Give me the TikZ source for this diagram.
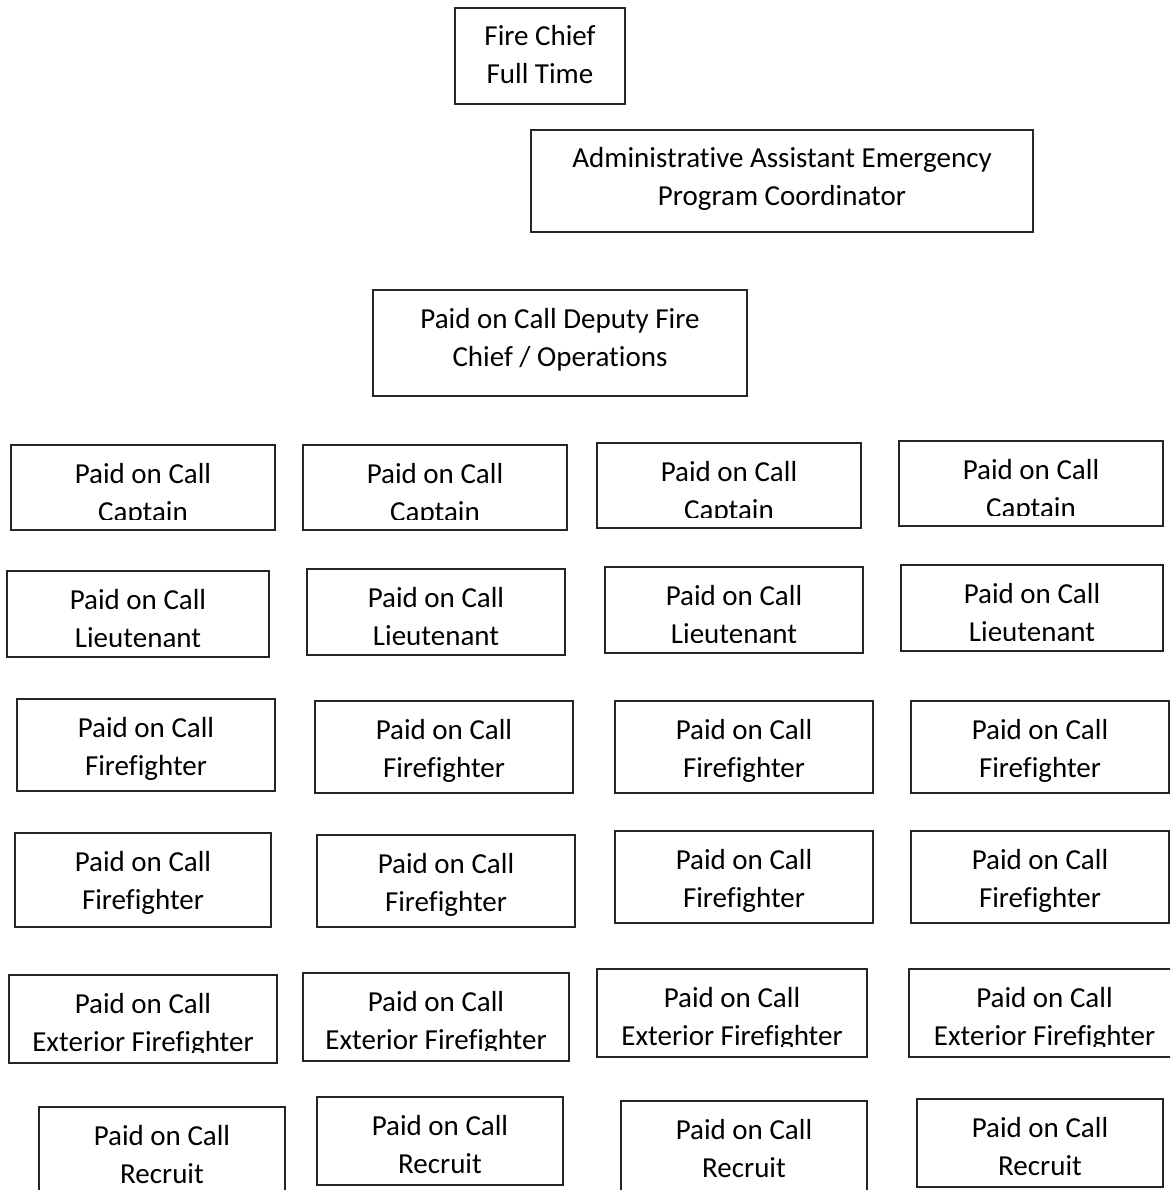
\documentclass[tikz,border=0pt]{standalone}
\usepackage{fontspec}
\setmainfont{Carlito}[Ligatures={NoCommon,NoContextual,NoRare}]
\newcommand{\obox}[7]{%
  \node[orgbox, minimum width={(#4)-(#2)}, minimum height={(#5)-(#3)}] (#1) at ({(#2+#4)/2},{(#3+#5)/2}) {};
  \begin{scope}
    \clip (#2,#3) rectangle (#4,#5-11);
    \node[orgtext] (#1-a) at ({(#2+#4)/2},#3+38) {#6};
    \node[orgtext] (#1-b) at ({(#2+#4)/2},#3+76) {#7};
  \end{scope}}
\begin{document}
\begin{tikzpicture}[x={(1pt,0pt)}, y={(0pt,-1pt)},
  orgbox/.style={draw=black!85, line width=1.3pt, inner sep=0pt, outer sep=0pt, rectangle},
  orgtext/.style={anchor=base, inner sep=0pt, outer sep=0pt, font=\fontsize{29}{35}\selectfont, text=black}]
\useasboundingbox (0,0) rectangle (1170,1190);
\clip (0,0) rectangle (1170,1190);
\fill[white] (0,0) rectangle (1170,1190);
% top
\obox{chief}{455}{8}{625}{104}{Fire Chief}{Full Time}
\obox{admin}{531}{130}{1033}{232}{Administrative Assistant Emergency}{Program Coordinator}
\obox{deputy}{373}{290}{747}{396}{Paid on Call Deputy Fire}{Chief / Operations}
% captains
\obox{cap1}{11}{445}{275}{530}{Paid on Call}{Captain}
\obox{cap2}{303}{445}{567}{530}{Paid on Call}{Captain}
\obox{cap3}{597}{443}{861}{528}{Paid on Call}{Captain}
\obox{cap4}{899}{441}{1163}{526}{Paid on Call}{Captain}
% lieutenants
\obox{lt1}{7}{571}{269}{657}{Paid on Call}{Lieutenant}
\obox{lt2}{307}{569}{565}{655}{Paid on Call}{Lieutenant}
\obox{lt3}{605}{567}{863}{653}{Paid on Call}{Lieutenant}
\obox{lt4}{901}{565}{1163}{651}{Paid on Call}{Lieutenant}
% firefighters 1
\obox{ffa1}{17}{699}{275}{791}{Paid on Call}{Firefighter}
\obox{ffa2}{315}{701}{573}{793}{Paid on Call}{Firefighter}
\obox{ffa3}{615}{701}{873}{793}{Paid on Call}{Firefighter}
\obox{ffa4}{911}{701}{1169}{793}{Paid on Call}{Firefighter}
% firefighters 2
\obox{ffb1}{15}{833}{271}{927}{Paid on Call}{Firefighter}
\obox{ffb2}{317}{835}{575}{927}{Paid on Call}{Firefighter}
\obox{ffb3}{615}{831}{873}{923}{Paid on Call}{Firefighter}
\obox{ffb4}{911}{831}{1169}{923}{Paid on Call}{Firefighter}
% exterior
\obox{ext1}{9}{975}{277}{1063}{Paid on Call}{Exterior Firefighter}
\obox{ext2}{303}{973}{569}{1061}{Paid on Call}{Exterior Firefighter}
\obox{ext3}{597}{969}{867}{1057}{Paid on Call}{Exterior Firefighter}
\obox{ext4}{909}{969}{1180}{1057}{Paid on Call}{Exterior Firefighter}
% recruits
\obox{rec1}{39}{1107}{285}{1200}{Paid on Call}{Recruit}
\obox{rec2}{317}{1097}{563}{1185}{Paid on Call}{Recruit}
\obox{rec3}{621}{1101}{867}{1200}{Paid on Call}{Recruit}
\obox{rec4}{917}{1099}{1163}{1187}{Paid on Call}{Recruit}
\end{tikzpicture}
\end{document}
